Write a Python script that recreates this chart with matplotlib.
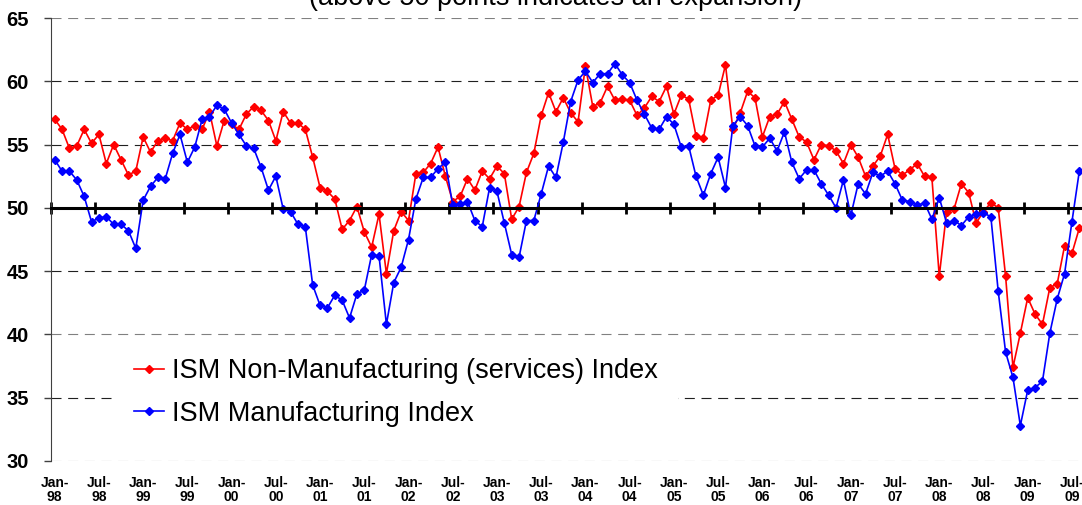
import matplotlib
matplotlib.use('Agg')
import matplotlib.pyplot as plt
import numpy as np

plt.rcParams['font.family'] = ['Liberation Sans', 'DejaVu Sans']

# monthly readings, Jan-98 .. Aug-09
non_manufacturing = [
    57.0, 56.2, 54.7, 54.9, 56.2, 55.1, 55.8, 53.5, 55.0, 53.8, 52.6, 52.9,   # 1998
    55.6, 54.4, 55.3, 55.5, 55.3, 56.7, 56.2, 56.5, 56.2, 57.6, 54.9, 56.9,   # 1999
    56.6, 56.2, 57.4, 58.0, 57.7, 56.9, 55.3, 57.6, 56.7, 56.7, 56.2, 54.0,   # 2000
    51.6, 51.3, 50.7, 48.3, 49.0, 50.1, 48.1, 46.9, 49.5, 44.8, 48.2, 49.7,   # 2001
    49.0, 52.7, 52.8, 53.5, 54.8, 52.5, 50.5, 50.9, 52.3, 51.4, 52.9, 52.3,   # 2002
    53.3, 52.7, 49.1, 50.1, 52.8, 54.3, 57.3, 59.1, 57.6, 58.7, 57.5, 56.8,   # 2003
    61.2, 58.0, 58.3, 59.6, 58.5, 58.6, 58.5, 57.3, 57.9, 58.8, 58.4, 59.6,   # 2004
    57.4, 58.9, 58.6, 55.7, 55.5, 58.5, 58.9, 61.3, 56.2, 57.5, 59.2, 58.7,   # 2005
    55.6, 57.2, 57.4, 58.4, 57.0, 55.6, 55.2, 53.8, 55.0, 54.9, 54.5, 53.5,   # 2006
    55.0, 54.0, 52.5, 53.3, 54.1, 55.8, 53.1, 52.6, 53.0, 53.5, 52.5, 52.4,   # 2007
    44.6, 49.7, 49.9, 51.9, 51.2, 48.8, 49.7, 50.4, 50.0, 44.6, 37.4, 40.1,   # 2008
    42.9, 41.6, 40.8, 43.7, 44.0, 47.0, 46.4, 48.4,                           # 2009
]
manufacturing = [
    53.8, 52.9, 52.9, 52.2, 50.9, 48.9, 49.2, 49.3, 48.7, 48.7, 48.2, 46.8,   # 1998
    50.6, 51.7, 52.4, 52.3, 54.3, 55.8, 53.6, 54.8, 57.0, 57.2, 58.1, 57.8,   # 1999
    56.7, 55.8, 54.9, 54.7, 53.2, 51.4, 52.5, 49.9, 49.7, 48.7, 48.5, 43.9,   # 2000
    42.3, 42.1, 43.1, 42.7, 41.3, 43.2, 43.5, 46.3, 46.2, 40.8, 44.1, 45.3,   # 2001
    47.5, 50.7, 52.4, 52.4, 53.1, 53.6, 50.2, 50.3, 50.5, 49.0, 48.5, 51.6,   # 2002
    51.3, 48.8, 46.3, 46.1, 49.0, 49.0, 51.1, 53.3, 52.4, 55.2, 58.4, 60.1,   # 2003
    60.8, 59.9, 60.6, 60.6, 61.4, 60.5, 59.9, 58.5, 57.4, 56.3, 56.2, 57.2,   # 2004
    56.6, 54.8, 54.9, 52.5, 51.0, 52.7, 54.0, 51.6, 56.5, 57.2, 56.5, 54.9,   # 2005
    54.8, 55.5, 54.5, 56.0, 53.6, 52.3, 53.0, 53.0, 51.9, 51.0, 50.0, 52.2,   # 2006
    49.4, 51.9, 51.1, 52.8, 52.5, 52.9, 51.9, 50.6, 50.5, 50.2, 50.4, 49.1,   # 2007
    50.8, 48.8, 49.0, 48.6, 49.3, 49.5, 49.6, 49.3, 43.4, 38.6, 36.6, 32.8,   # 2008
    35.6, 35.8, 36.3, 40.1, 42.8, 44.8, 48.9, 52.9,                           # 2009
]
tick_labels = [
    'Jan-\n98', 'Jul-\n98', 'Jan-\n99', 'Jul-\n99', 'Jan-\n00', 'Jul-\n00',
    'Jan-\n01', 'Jul-\n01', 'Jan-\n02', 'Jul-\n02', 'Jan-\n03', 'Jul-\n03',
    'Jan-\n04', 'Jul-\n04', 'Jan-\n05', 'Jul-\n05', 'Jan-\n06', 'Jul-\n06',
    'Jan-\n07', 'Jul-\n07', 'Jan-\n08', 'Jul-\n08', 'Jan-\n09', 'Jul-\n09',
]

months = np.arange(len(manufacturing))

fig = plt.figure(figsize=(10.82, 5.05), dpi=100)
ax = fig.add_axes([51 / 1082, 44 / 505, 1032 / 1082, 443 / 505])

ax.plot(months, non_manufacturing, color='#ff0000', lw=1.2, marker='D', ms=4.0,
        label='ISM Non-Manufacturing (services) Index')
ax.plot(months, manufacturing, color='#0000ff', lw=1.2, marker='D', ms=4.0,
        label='ISM Manufacturing Index')

ax.set_xlim(-0.5, len(months) - 0.5)
ax.set_ylim(30, 65)
ax.set_yticks(np.arange(30, 66, 5))
ax.tick_params(axis='y', length=5, width=1, color='#404040', pad=11)
for t in ax.get_yticklabels():
    t.set_fontweight('bold')
    t.set_fontsize(14.5)

# dashed horizontal grid
ax.grid(axis='y', linestyle=(0, (9, 6)), lw=0.8)
grid_cols = ['#808080', '#202020', '#808080', '#202020', '#202020', '#202020', '#202020', '#808080']
for gl, c in zip(ax.get_ygridlines(), grid_cols):
    gl.set_color(c)
ax.set_axisbelow(True)

ax.spines['top'].set_visible(False)
ax.spines['right'].set_visible(False)
ax.spines['left'].set_color('#404040')
# x axis drawn across the 50 line, ticks between categories
ax.spines['bottom'].set_position(('data', 50))
ax.spines['bottom'].set_linewidth(2.2)
ax.set_xticks(np.arange(-0.5, len(months), 6))
ax.set_xticklabels([])
ax.tick_params(axis='x', direction='inout', length=9, width=2)

lab = ax.secondary_xaxis('bottom')
lab.set_xticks(np.arange(0, len(months), 6), labels=tick_labels)
lab.tick_params(length=0, pad=11)
lab.spines['bottom'].set_visible(False)
for t in lab.get_xticklabels():
    t.set_fontweight('bold')
    t.set_fontsize(10)
    t.set_linespacing(1.0)

leg = ax.legend(loc='upper left', bbox_to_anchor=(114 / 1082, 1 - 338 / 505),
                bbox_transform=fig.transFigure, fontsize=19.5, frameon=True,
                fancybox=False, edgecolor='none', facecolor='white', framealpha=1,
                borderpad=0.75, borderaxespad=0, handlelength=1.1, handletextpad=0.3,
                labelspacing=0.6)

fig.text(555 / 1082, 1 - 5 / 505, '(above 50 points indicates an expansion)',
         ha='center', va='baseline', fontsize=19.5)

fig.savefig('out.png', dpi=100)
